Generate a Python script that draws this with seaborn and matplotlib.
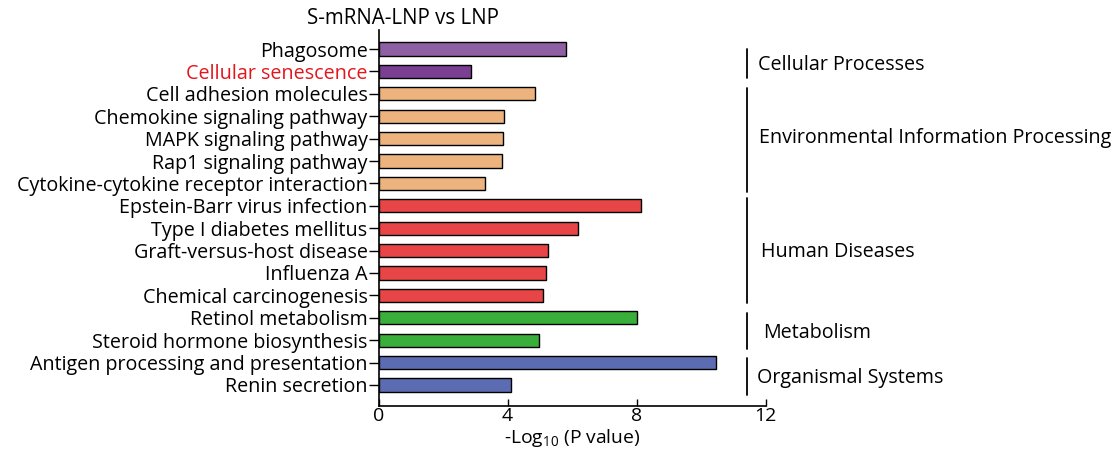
import matplotlib
matplotlib.use("Agg")
import matplotlib.pyplot as plt
import seaborn as sns
import pandas as pd

pathways = ["Phagosome", "Cellular senescence", "Cell adhesion molecules",
            "Chemokine signaling pathway", "MAPK signaling pathway", "Rap1 signaling pathway",
            "Cytokine-cytokine receptor interaction", "Epstein-Barr virus infection",
            "Type I diabetes mellitus", "Graft-versus-host disease", "Influenza A",
            "Chemical carcinogenesis", "Retinol metabolism", "Steroid hormone biosynthesis",
            "Antigen processing and presentation", "Renin secretion"]
neg_log_p = [5.81, 2.85, 4.86, 3.90, 3.86, 3.82, 3.31, 8.12, 6.17, 5.25, 5.20, 5.08,
             8.00, 4.98, 10.45, 4.09]
bar_colors = ["#8F5FA3", "#7A3E93", "#ECB37E", "#ECB37E", "#ECB37E", "#ECB37E", "#ECB37E",
              "#E84646", "#E84646", "#E84646", "#E84646", "#E84646",
              "#3AAE3A", "#3AAE3A", "#5B6CB3", "#5B6CB3"]
categories = ["Cellular Processes", "Environmental Information Processing",
              "Human Diseases", "Metabolism", "Organismal Systems"]
cat_spans = [(0.0, 1.29), (1.74, 6.38), (6.65, 11.34), (11.79, 13.39), (13.79, 15.45)]
cat_text_pos = [(11.76, 0.71), (11.79, 3.97), (11.85, 9.06), (11.92, 12.68), (11.73, 14.69)]

sns.set_style("ticks")
plt.rcParams["font.family"] = ["Open Sans", "DejaVu Sans"]
plt.rcParams["mathtext.default"] = "regular"
for k in ["text.color", "axes.labelcolor", "xtick.color", "ytick.color", "axes.edgecolor"]:
    plt.rcParams[k] = "black"

fig = plt.figure(figsize=(11.18, 4.58), dpi=100)
ax = fig.add_axes([0.3387, 0.1135, 0.3462, 0.821])

df = pd.DataFrame({"pathway": pathways, "value": neg_log_p})
sns.barplot(data=df, x="value", y="pathway", hue="pathway", palette=bar_colors,
            orient="h", edgecolor="black", linewidth=1.0, width=0.59, legend=False,
            ax=ax, saturation=1)

ax.set_xlim(0, 12)
ax.set_ylim(15.94, -0.85)
ax.set_xticks([0, 4, 8, 12])
ax.set_ylabel("")
ax.set_xlabel("-Log$_{10}$ (P value)", fontsize=13.9, labelpad=1)
ax.tick_params(axis="x", direction="in", length=5, width=1, labelsize=14, pad=1)
ax.tick_params(axis="y", direction="out", length=7, width=1, labelsize=14.2, pad=1)
for sp in ["top", "right"]:
    ax.spines[sp].set_visible(False)
for sp in ["left", "bottom"]:
    ax.spines[sp].set_linewidth(1.2)

for lab in ax.get_yticklabels():
    if lab.get_text() == "Cellular senescence":
        lab.set_color("#E3161C")

for (y0, y1), cat, (tx, ty) in zip(cat_spans, categories, cat_text_pos):
    ax.plot([11.43, 11.43], [y0, y1], color="black", lw=1.3, clip_on=False)
    ax.text(tx, ty, cat, fontsize=14.2, va="center", ha="left", clip_on=False)

fig.text(403 / 1118, 1 - 18 / 458, "S-mRNA-LNP vs LNP", fontsize=14.8, ha="center", va="center")

fig.savefig("out.png", dpi=100, facecolor="white")
